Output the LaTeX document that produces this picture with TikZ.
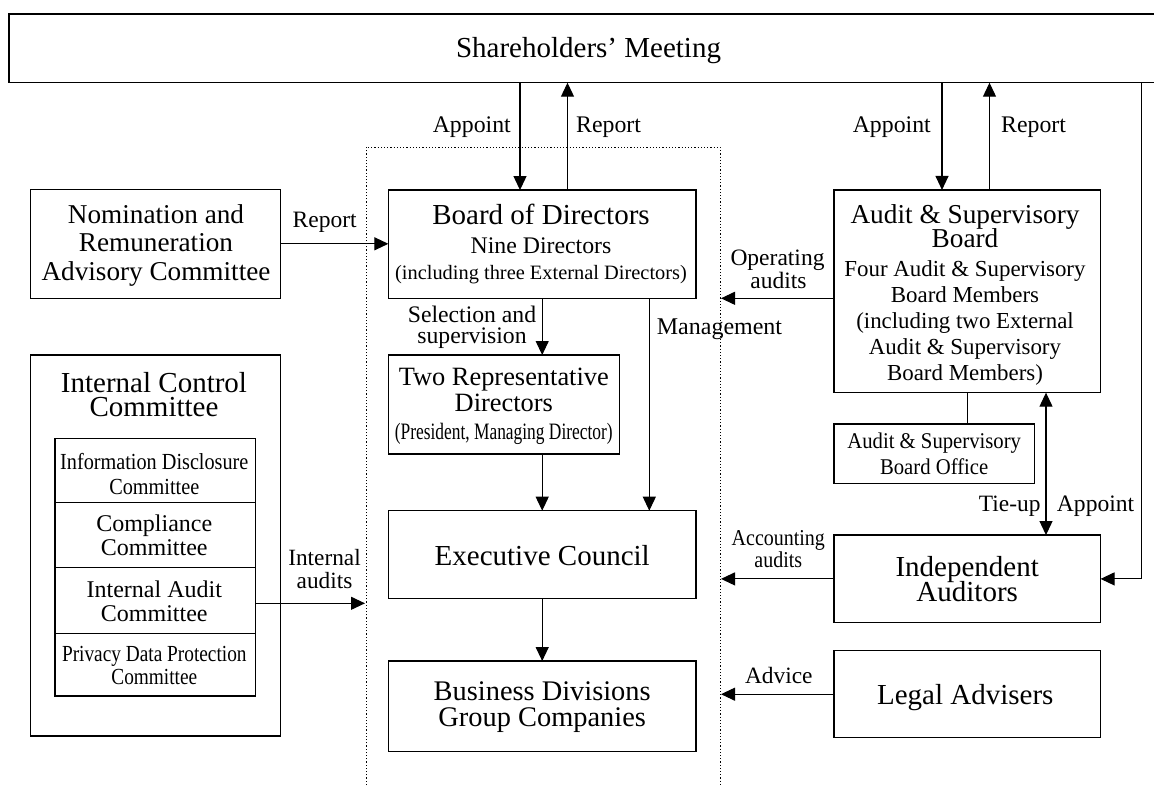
\documentclass[tikz,border=0pt]{standalone}
\usepackage{fontspec}
\setmainfont{Liberation Serif}
\usepackage{graphicx}
\usetikzlibrary{arrows.meta,calc}
\newcommand\fsz[1]{\fontsize{#1}{#1}\selectfont}
\newcommand\cnd[2]{\scalebox{#1}[1]{#2}}
\begin{document}
\begin{tikzpicture}[x=1pt,y=-1pt,
  box/.style={draw, line width=1.2pt, inner sep=0, outer sep=0},
  txt/.style={inner sep=0, anchor=base},
  txtr/.style={inner sep=0, anchor=base east},
  txtl/.style={inner sep=0, anchor=base west},
  arr/.style={line width=1.1pt, -{Triangle[length=14pt,width=13pt]}},
  dbl/.style={line width=1.1pt, {Triangle[length=14pt,width=13pt]}-{Triangle[length=14pt,width=13pt]}},
  ln/.style={line width=1.1pt},
  dotline/.style={line width=1pt, dash pattern=on 1.2pt off 2pt}]
\useasboundingbox (0,0) rectangle (1154,785);

% boxes
\node[box, minimum width=1161pt, minimum height=68.7pt] (sh) at (589.5,48.35) {};
\node[box, minimum width=250pt, minimum height=109pt] (nom) at (155.7,243.8) {};
\node[box, minimum width=307.7pt, minimum height=108.3pt] (bod) at (542.2,244.2) {};
\node[box, minimum width=266.5pt, minimum height=202.7pt] (asb) at (967.3,291.3) {};
\node[box, minimum width=231pt, minimum height=99pt] (trd) at (503.8,404.5) {};
\node[box, minimum width=250pt, minimum height=381pt] (ico) at (155.7,545.5) {};
\node[box, minimum width=200.7pt, minimum height=63.8pt] (row1) at (155.35,470.4) {};
\node[box, minimum width=200.7pt, minimum height=65pt] (row2) at (155.35,534.8) {};
\node[box, minimum width=200.7pt, minimum height=66pt] (row3) at (155.35,600.3) {};
\node[box, minimum width=200.7pt, minimum height=62.7pt] (row4) at (155.35,664.65) {};
\node[box, minimum width=307.7pt, minimum height=87.6pt] (exe) at (542.2,554.5) {};
\node[box, minimum width=307.7pt, minimum height=90.7pt] (bus) at (542.2,706.4) {};
\node[box, minimum width=200.3pt, minimum height=59.3pt] (off) at (934.2,453.7) {};
\node[box, minimum width=266.5pt, minimum height=87.7pt] (ind) at (967.3,578.9) {};
\node[box, minimum width=266.5pt, minimum height=87pt] (leg) at (967.3,694.2) {};

% dotted frame
\draw[dotline] (366,785) -- (366,147) -- (720,147) -- (720,785);

% texts
\node[txt] (tsh) at (588.5,57.5) {\fsz{29}Shareholders’ Meeting};
\node[txtr] (tap1) at (511,132) {\fsz{23.8}Appoint};
\node[txtl] (tre1) at (576,132) {\fsz{23.8}Report};
\node[txtr] (tap2) at (931,132) {\fsz{23.8}Appoint};
\node[txtl] (tre2) at (1001,132) {\fsz{23.8}Report};

\node[txt] (tn1) at (156,223.3) {\fsz{27.2}Nomination and};
\node[txt] (tn2) at (156,251.7) {\fsz{27.2}Remuneration};
\node[txt] (tn3) at (156,280) {\fsz{27.2}Advisory Committee};
\node[txt] (trep) at (324.7,227.5) {\fsz{23.5}Report};

\node[txt] (tb1) at (541,224) {\fsz{29}Board of Directors};
\node[txt] (tb2) at (541,253.3) {\fsz{23.8}Nine Directors};
\node[txt] (tb3) at (541,279) {\fsz{20.4}(including three External Directors)};

\node[txt] (ts1) at (472,322) {\fsz{23.7}Selection and};
\node[txt] (ts2) at (472,343.3) {\fsz{23.7}supervision};
\node[txt] (tman) at (719.5,334.3) {\fsz{24}Management};

\node[txt] (tr1) at (503.8,385) {\fsz{26.4}Two Representative};
\node[txt] (tr2) at (503.8,411.7) {\fsz{26.4}Directors};
\node[txt] (tr3) at (503.8,439.3) {\fsz{23.5}\cnd{0.74}{(President, Managing Director)}};

\node[txt] (top1) at (777.5,265) {\fsz{23.5}Operating};
\node[txt] (top2) at (778.5,288.3) {\fsz{23.5}audits};

\node[txt] (ta1) at (965,223.3) {\fsz{27.3}Audit \& Supervisory};
\node[txt] (ta2) at (965,247.3) {\fsz{27.3}Board};
\node[txt] (ta3) at (965,276.8) {\fsz{22.9}Four Audit \& Supervisory};
\node[txt] (ta4) at (965,302.8) {\fsz{22.9}Board Members};
\node[txt] (ta5) at (965,328.8) {\fsz{22.9}(including two External};
\node[txt] (ta6) at (965,354.8) {\fsz{22.9}Audit \& Supervisory};
\node[txt] (ta7) at (965,380.8) {\fsz{22.9}Board Members)};

\node[txt] (to1) at (934.2,448.3) {\fsz{22.5}\cnd{0.92}{Audit \& Supervisory}};
\node[txt] (to2) at (934.2,474) {\fsz{22.5}\cnd{0.92}{Board Office}};

\node[txtr] (ttie) at (1040.7,511.7) {\fsz{23.4}Tie-up};
\node[txtl] (tap3) at (1056.7,511.7) {\fsz{23.6}Appoint};

\node[txt] (ti1) at (154,392.7) {\fsz{29}Internal Control};
\node[txt] (ti2) at (154,416) {\fsz{29}Committee};
\node[txt] (tq1) at (154.3,469.3) {\fsz{23}\cnd{0.88}{Information Disclosure}};
\node[txt] (tq2) at (154.3,494.3) {\fsz{23}\cnd{0.88}{Committee}};
\node[txt] (tq3) at (154.3,531.7) {\fsz{24}Compliance};
\node[txt] (tq4) at (154.3,555) {\fsz{24}Committee};
\node[txt] (tq5) at (154.3,597.3) {\fsz{24}Internal Audit};
\node[txt] (tq6) at (154.3,621.7) {\fsz{24}Committee};
\node[txt] (tq7) at (154.3,661.7) {\fsz{23}\cnd{0.84}{Privacy Data Protection}};
\node[txt] (tq8) at (154.3,684.3) {\fsz{23}\cnd{0.84}{Committee}};
\node[txt] (tia1) at (324.5,565) {\fsz{23.3}Internal};
\node[txt] (tia2) at (324.5,588.3) {\fsz{23.3}audits};

\node[txt] (tex) at (542.2,565.5) {\fsz{29}Executive Council};
\node[txt] (tbu1) at (542.2,700.7) {\fsz{28.4}Business Divisions};
\node[txt] (tbu2) at (542.2,726.7) {\fsz{28.4}Group Companies};

\node[txt] (tac1) at (778.3,545) {\fsz{22.7}\cnd{0.88}{Accounting}};
\node[txt] (tac2) at (778.3,567.3) {\fsz{22.7}\cnd{0.88}{audits}};
\node[txt] (tadv) at (778.8,683.3) {\fsz{23.4}Advice};

\node[txt] (tin1) at (967.2,576.5) {\fsz{29}Independent};
\node[txt] (tin2) at (967.2,601.7) {\fsz{29}Auditors};
\node[txt] (tleg) at (965.3,704.2) {\fsz{29}Legal Advisers};

% coordinates
\coordinate (bodA) at ($(bod.north)+(-22.2,0)$);
\coordinate (bodR) at ($(bod.north)+(25.3,0)$);
\coordinate (asbA) at ($(asb.north)+(-25.3,0)$);
\coordinate (asbR) at ($(asb.north)+(22.2,0)$);
\coordinate (bodM) at ($(bod.south)+(107.1,0)$);
\coordinate (asbT) at ($(asb.south)+(78.7,0)$);
\coordinate (rTop) at ($(sh.south)+(552,0)$);
\coordinate (dOp) at (721,298.3);
\coordinate (dAc) at (721,578.3);
\coordinate (dIn) at (365,603.3);

% connectors
\draw[arr] (bodA |- sh.south) -- (bodA);
\draw[arr] (bodR) -- (bodR |- sh.south);
\draw[arr] (asbA |- sh.south) -- (asbA);
\draw[arr] (asbR) -- (asbR |- sh.south);
\draw[arr] (nom.east) -- (nom.east -| bod.west);
\draw[arr] (bod.south) -- (bod.south |- trd.north);
\draw[arr] (bodM) -- (bodM |- exe.north);
\draw[arr] (trd.south -| exe.north) -- (exe.north);
\draw[arr] (exe.south) -- (bus.north);
\draw[arr] (asb.west |- dOp) -- (dOp);
\draw[ln] (asb.south) -- (asb.south |- off.north);
\draw[dbl] (asbT) -- (asbT |- ind.north);
\draw[arr] (rTop) |- (ind.east);
\draw[arr] (ind.west) -- (ind.west -| dAc);
\draw[arr] (leg.west) -- (leg.west -| dAc);
\draw[arr] (row3.east |- dIn) -- (dIn);
\end{tikzpicture}
\end{document}
